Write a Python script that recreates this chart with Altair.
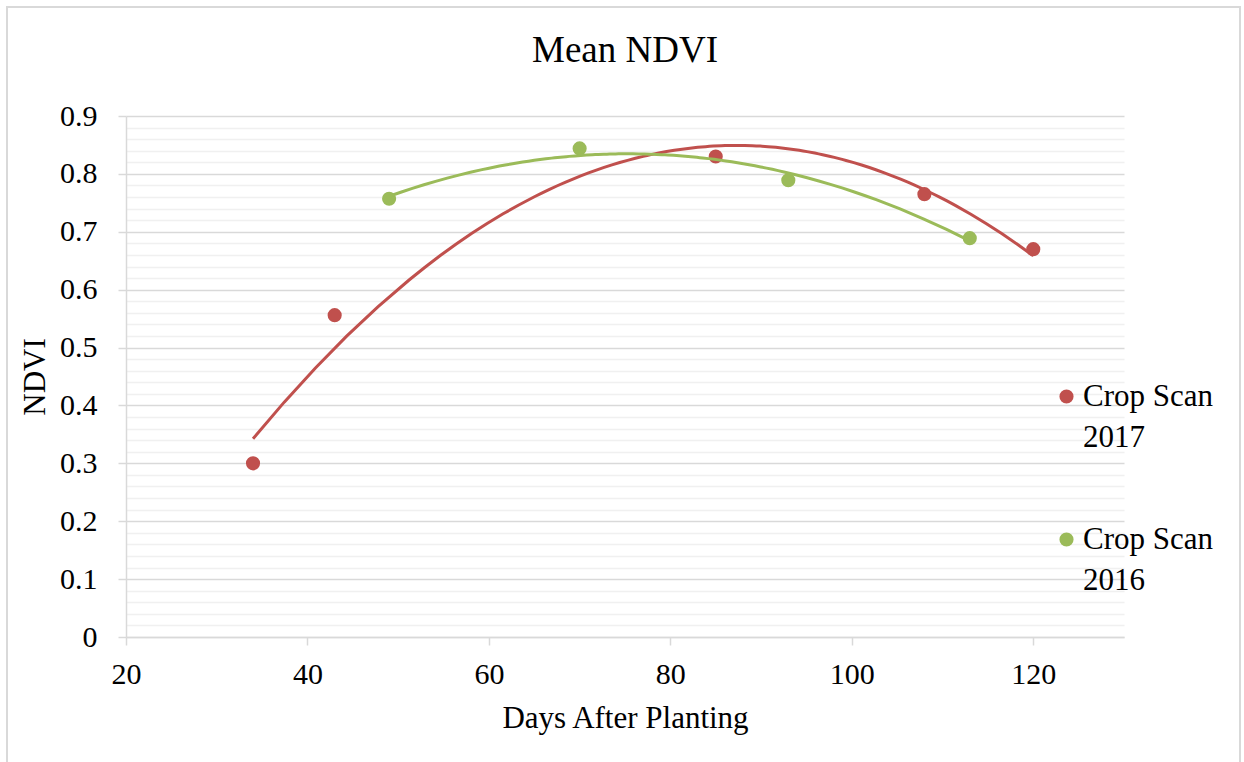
import altair as alt
import pandas as pd

# Data
days_2017 = [34, 43, 85, 108, 120]
ndvi_2017 = [0.300, 0.556, 0.830, 0.765, 0.670]
days_2016 = [49, 70, 93, 113]
ndvi_2016 = [0.757, 0.844, 0.789, 0.689]
series_names = ["Crop Scan 2017", "Crop Scan 2016"]
series_colors = ["#C0504D", "#9BBB59"]
x_ticks = [20, 40, 60, 80, 100, 120]
y_ticks = [0, 0.1, 0.2, 0.3, 0.4, 0.5, 0.6, 0.7, 0.8, 0.9]
y_minor = [round(i * 0.02, 2) for i in range(46) if i % 5 != 0]

df = pd.DataFrame(
    {
        "days": days_2017 + days_2016,
        "ndvi": ndvi_2017 + ndvi_2016,
        "series": [series_names[0]] * len(days_2017) + [series_names[1]] * len(days_2016),
    }
)

FONT = "Liberation Serif"
GRID_MAJOR = "#d9d9d9"
GRID_MINOR = "#f0f0f0"

x_enc = alt.X(
    "days:Q",
    scale=alt.Scale(domain=[20, 130], nice=False, zero=False),
    axis=alt.Axis(
        values=x_ticks,
        title="Days After Planting",
        grid=False,
        domainColor=GRID_MAJOR,
        domainWidth=1.5,
        tickColor=GRID_MAJOR,
        tickWidth=1.5,
        tickSize=8,
        labelPadding=14,
        labelFlush=False,
        labelFontSize=30,
        titleFontSize=31,
        titlePadding=14,
        titleFontWeight="normal",
    ),
)

color_enc = alt.Color(
    "series:N",
    scale=alt.Scale(domain=series_names, range=series_colors),
    sort=series_names,
    legend=alt.Legend(
        title=None,
        orient="none",
        legendX=925,
        legendY=265,
        symbolType="circle",
        symbolSize=200,
        symbolStrokeWidth=0,
        labelFontSize=31,
        labelFont=FONT,
        labelLimit=400,
        labelOffset=1,
        rowPadding=70,
        labelBaseline="middle",
        labelExpr="[slice(datum.label, 0, 9), slice(datum.label, 10)]",
        padding=0,
    ),
)

# Minor grid (own y-axis, shares scale)
minor = (
    alt.Chart(df)
    .mark_point(opacity=0)
    .encode(
        x=x_enc,
        y=alt.Y(
            "ndvi:Q",
            scale=alt.Scale(domain=[0, 0.9], nice=False),
            axis=alt.Axis(
                values=y_minor,
                grid=True,
                gridColor=GRID_MINOR,
                gridWidth=1.5,
                labels=False,
                ticks=False,
                domain=False,
                title=None,
                orient="left",
            ),
        ),
    )
)

points = (
    alt.Chart(df)
    .mark_circle(size=200, opacity=1)
    .encode(
        x=x_enc,
        y=alt.Y(
            "ndvi:Q",
            scale=alt.Scale(domain=[0, 0.9], nice=False),
            axis=alt.Axis(
                values=y_ticks,
                format="~g",
                title="NDVI",
                grid=True,
                gridColor=GRID_MAJOR,
                gridWidth=1.5,
                domainColor=GRID_MAJOR,
                domainWidth=1.5,
                tickColor=GRID_MAJOR,
                tickWidth=1.5,
                tickSize=8,
                labelPadding=21,
                labelFontSize=30,
                titleFontSize=31,
                titlePadding=8,
                titleFontWeight="normal",
                orient="left",
            ),
        ),
        color=color_enc,
    )
)

trend = (
    alt.Chart(df)
    .transform_regression("days", "ndvi", method="poly", order=2, groupby=["series"])
    .mark_line(strokeWidth=3)
    .encode(
        x=x_enc,
        y=alt.Y("ndvi:Q", scale=alt.Scale(domain=[0, 0.9], nice=False), axis=None),
        color=alt.Color("series:N", scale=alt.Scale(domain=series_names, range=series_colors), legend=None),
    )
)

frame = (
    alt.Chart(pd.DataFrame({"k": [0]}))
    .mark_rect(fill=None, stroke="#d9d9d9", strokeWidth=2)
    .encode(
        x=alt.value(-119),
        x2=alt.value(1114),
        y=alt.value(-109),
        y2=alt.value(680),
    )
)

chart = (
    alt.layer(minor, points, trend, frame)
    .resolve_axis(y="independent")
    .resolve_scale(y="shared")
    .properties(
        width=998,
        height=521,
        title=alt.TitleParams(
            "Mean NDVI",
            fontSize=37,
            fontWeight="normal",
            font=FONT,
            anchor="middle",
            baseline="alphabetic",
            frame="group",
            offset=-93,
            color="black",
        ),
        autosize=alt.AutoSizeParams(type="none"),
        padding={"left": 126, "top": 116, "right": 120, "bottom": 125},
    )
    .configure(font=FONT, style={"guide-label": {"lineHeight": 41}})
    .configure_axis(labelFont=FONT, titleFont=FONT, labelColor="black", titleColor="black")
    .configure_view(stroke=None)
    .configure_legend(labelColor="black")
)

chart.save("out.html", embed_options={"renderer": "svg", "actions": False})
